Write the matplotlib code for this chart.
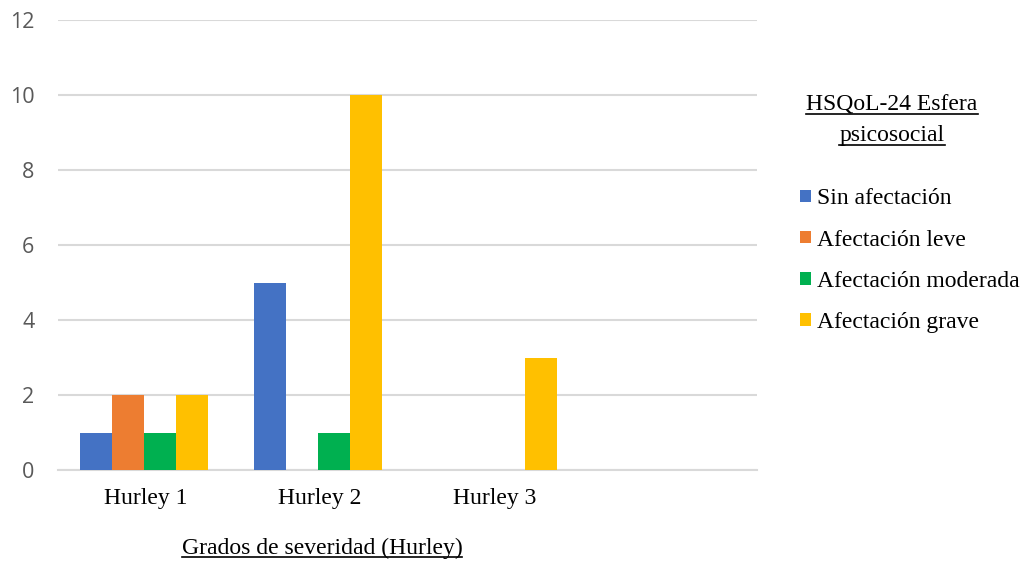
import numpy as np
import matplotlib.pyplot as plt
from matplotlib.lines import Line2D

categories = ["Hurley 1", "Hurley 2", "Hurley 3", ""]
series_names = ["Sin afectación", "Afectación leve", "Afectación moderada", "Afectación grave"]
sin_afectacion = [1, 5, 0, 0]
afectacion_leve = [2, 0, 0, 0]
afectacion_moderada = [1, 1, 0, 0]
afectacion_grave = [2, 10, 3, 0]
colors = ["#4472C4", "#ED7D31", "#00B050", "#FFC000"]

serif = "Liberation Serif"

fig = plt.figure(figsize=(10.28, 5.62), dpi=100)
ax = fig.add_axes([58 / 1028, 1 - 470 / 562, (757 - 58) / 1028, 450 / 562])

x = np.arange(len(categories))
width = 0.183
all_series = [sin_afectacion, afectacion_leve, afectacion_moderada, afectacion_grave]
handles = []
for i, (vals, c) in enumerate(zip(all_series, colors)):
    b = ax.bar(x + (i - 1.5) * width - 0.01, vals, width, color=c, label=series_names[i], zorder=3)
    handles.append(b)

ax.set_xlim(-0.5, len(categories) - 0.5)
ax.set_ylim(0, 12)
ax.set_yticks(range(0, 13, 2))
ax.yaxis.grid(True, color="#d9d9d9", linewidth=1.5, zorder=0)
ax.set_axisbelow(True)
for s in ["top", "right", "left"]:
    ax.spines[s].set_visible(False)
ax.spines["bottom"].set_color("#d9d9d9")
ax.spines["bottom"].set_linewidth(1.5)
ax.tick_params(axis="both", length=0)
ax.tick_params(axis="y", pad=17, labelsize=15.5, labelcolor="#595959")
ax.tick_params(axis="x", pad=13)
for lbl in ax.get_yticklabels():
    lbl.set_family("Open Sans")
ax.set_xticks(x)
ax.set_xticklabels(categories, fontsize=17, family=serif)

fig.canvas.draw()
renderer = fig.canvas.get_renderer()


def underlined(xp, yp, text):
    t = fig.text(xp / 1028, 1 - yp / 562, text, ha="center", va="center", fontsize=17, family=serif)
    fig.canvas.draw()
    bb = t.get_window_extent(renderer)
    y0 = bb.y0 + 1.5
    fig.add_artist(Line2D([bb.x0 / 1028, bb.x1 / 1028], [y0 / 562, y0 / 562], color="black", linewidth=1.2))
    return t


underlined(322, 548, "Grados de severidad (Hurley)")
underlined(892, 105, "HSQoL-24 Esfera")
underlined(892, 136, "psicosocial")

leg = fig.legend(handles=handles, loc="upper left", bbox_to_anchor=(791 / 1028, 1 - 179 / 562),
                 frameon=False, prop={"family": serif, "size": 17}, handlelength=0.45,
                 handleheight=0.45, handletextpad=0.25, labelspacing=0.85, borderaxespad=0)

fig.savefig("out.png", dpi=100)
